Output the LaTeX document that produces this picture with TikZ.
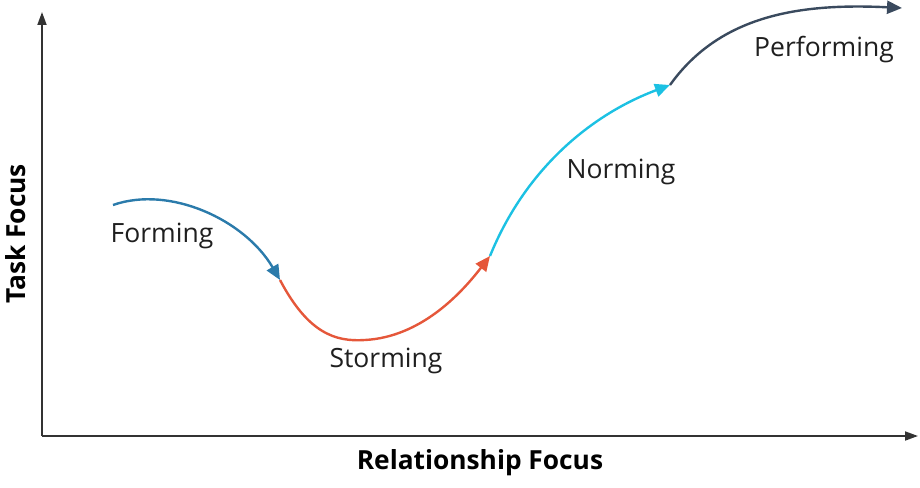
\documentclass[tikz,border=0pt]{standalone}
\usepackage{fontspec}
\setmainfont{Open Sans}
\usetikzlibrary{arrows.meta}
\definecolor{cform}{HTML}{2B7BAB}
\definecolor{cstorm}{HTML}{E5573A}
\definecolor{cnorm}{HTML}{1CC1E3}
\definecolor{cperf}{HTML}{3A4A5E}
\definecolor{caxis}{HTML}{333333}
\tikzset{
  axis/.style={draw=caxis, line width=1.8pt, -{Triangle[length=13pt,width=9pt]}},
  phase/.style={line width=2.4pt, -{Triangle[length=15pt,width=13pt]}},
  lbl/.style={font=\fontsize{26.5}{30}\selectfont, text=black!88, inner sep=0pt},
  axlbl/.style={font=\bfseries\fontsize{26.3}{30}\selectfont, text=black, inner sep=0pt}
}
\begin{document}
\begin{tikzpicture}[x=1pt,y=-1pt]
\useasboundingbox (0,0) rectangle (920,487);
\coordinate (o) at (42,436);
\coordinate (ytop) at (42,12);
\coordinate (xend) at (918,436);
\draw[axis] (o) -- (ytop);
\draw[axis] (o) -- (xend);
\coordinate (f0) at (113,205);
\coordinate (f1) at (280,280);
\coordinate (s1) at (490,256);
\coordinate (n1) at (670,85);
\coordinate (p1) at (902,8);
\draw[phase, draw=cform, fill=none] (f0) .. controls (170,185) and (245,220) .. (f1);
\draw[phase, draw=cstorm] (f1) .. controls (308,333) and (335,342) .. (365,340) .. controls (420,337) and (460,295) .. (s1);
\draw[phase, draw=cnorm] (s1) .. controls (525,170) and (590,115) .. (n1);
\draw[phase, draw=cperf] (n1) .. controls (720,15) and (800,3) .. (p1);
\node[lbl] (lf) at (162,236) {Forming};
\node[lbl] (ls) at (386,361) {Storming};
\node[lbl] (ln) at (621,172) {Norming};
\node[lbl] (lp) at (824,50) {Performing};
\node[axlbl] (lx) at (480,463) {Relationship Focus};
\node[axlbl, rotate=90] (ly) at (16,234) {Task Focus};
\end{tikzpicture}
\end{document}
